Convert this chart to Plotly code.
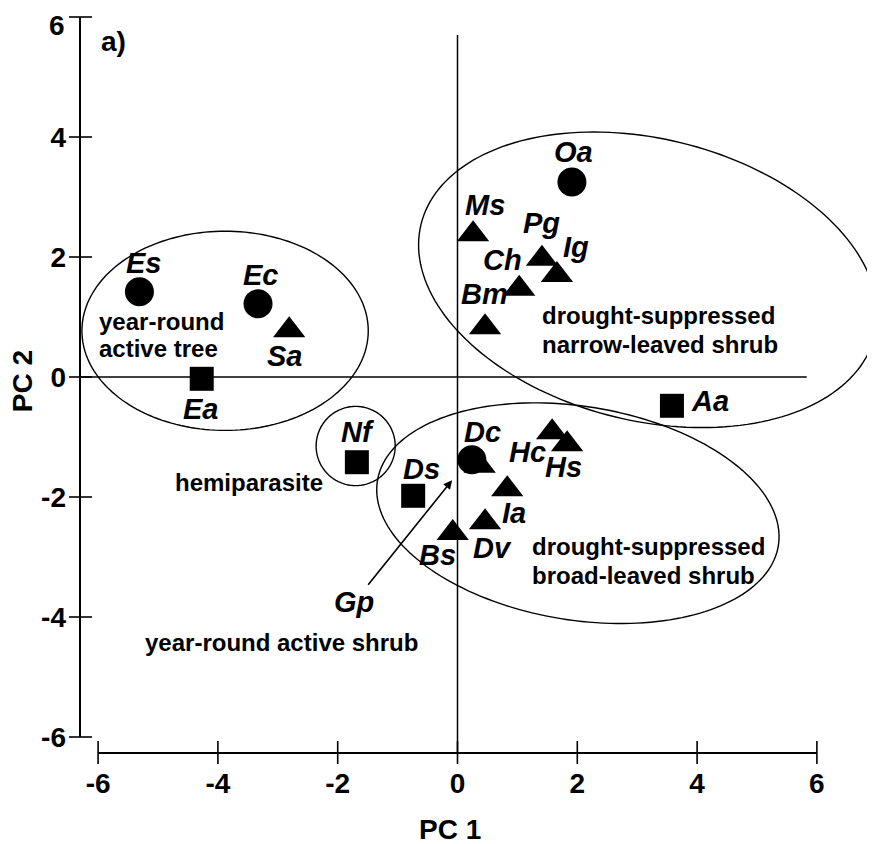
import numpy as np
import plotly.graph_objects as go

# ---------------- data ----------------
circle_species = ["Es", "Ec", "Oa", "Dc"]
circle_pc1 = [-5.31, -3.33, 1.91, 0.24]
circle_pc2 = [1.42, 1.22, 3.25, -1.38]

triangle_species = ["Sa", "Ms", "Pg", "Ig", "Ch", "Bm", "Hc", "Hs", "Ia", "Dv", "Bs", "Gp"]
triangle_pc1 = [-2.81, 0.26, 1.41, 1.66, 1.03, 0.46, 1.58, 1.83, 0.83, 0.46, -0.08, 0.37]
triangle_pc2 = [0.78, 2.38, 1.97, 1.70, 1.47, 0.83, -0.92, -1.12, -1.87, -2.42, -2.60, -1.48]

square_species = ["Ea", "Nf", "Aa", "Ds"]
square_pc1 = [-4.27, -1.68, 3.58, -0.74]
square_pc2 = [-0.03, -1.42, -0.48, -1.98]

tick_values = [-6, -4, -2, 0, 2, 4, 6]
tick_labels = ["-6", "-4", "-2", "0", "2", "4", "6"]

# functional groups (enclosing ellipses, in PC units)
group_cx = [-3.88, -1.70, 3.18, 2.01]
group_cy = [0.77, -1.15, 1.62, -2.27]
group_a = [2.39, 0.66, 3.90, 3.39]
group_b = [1.66, 0.66, 2.35, 1.78]
group_angle = [0.0, 0.0, -13.7, -9.2]

# ---------------- styling / layout ----------------
FONT = "Liberation Sans, Arial, sans-serif"
OFF = 8  # page body margin
W, H = 875 - OFF, 844 - OFF
PX_X = 59.9
PX_Y = 60.0
X0_PIX, Y0_PIX = 457.5 - OFF, 377.0 - OFF     # figure pixel of the origin
YAX_PIX = 80 - OFF                              # y axis line (figure px)
XAX_PIX = 753 - OFF                             # x axis line (figure px)
ML, MT = YAX_PIX - 2, 0
MB = H - (XAX_PIX + 2)
plot_w = W - ML
plot_h = H - MT - MB
x_range = [(ML - X0_PIX) / PX_X, (W - X0_PIX) / PX_X]
y_range = [-(MT + plot_h - Y0_PIX) / PX_Y, (Y0_PIX - MT) / PX_Y]

# label offsets in pixels (dx right, dy up) relative to each point
label_offsets = {
    "Es": (4, 29), "Ec": (2, 29), "Oa": (2, 30), "Dc": (11, 28),
    "Sa": (-5, -26), "Ms": (12, 29), "Pg": (0, 36), "Ig": (19, 28),
    "Ch": (-17, 29), "Bm": (-1, 33), "Hc": (-25, -20), "Hs": (-4, -23),
    "Ia": (7, -24), "Dv": (7, -26), "Bs": (-15, -22),
    "Ea": (-1, -30), "Nf": (1, 30), "Aa": (38, 5), "Ds": (8, 27),
}

fig = go.Figure()

# ellipses
for cx, cy, a, b, ang in zip(group_cx, group_cy, group_a, group_b, group_angle):
    t = np.linspace(0, 2 * np.pi, 181)
    th = np.deg2rad(ang)
    xs = cx + a * np.cos(t) * np.cos(th) - b * np.sin(t) * np.sin(th)
    ys = cy + a * np.cos(t) * np.sin(th) + b * np.sin(t) * np.cos(th)
    path = "M " + " L ".join(f"{x:.4f},{y:.4f}" for x, y in zip(xs, ys)) + " Z"
    fig.add_shape(type="path", path=path, xref="x", yref="y",
                  line=dict(color="black", width=1.4), layer="below")

# crosshair lines through origin
fig.add_shape(type="line", xref="x", yref="y", x0=0, x1=0, y0=5.7,
              y1=-(XAX_PIX - Y0_PIX) / PX_Y, line=dict(color="black", width=1.5), layer="below")
fig.add_shape(type="line", xref="x", yref="y", x0=(YAX_PIX - X0_PIX) / PX_X, x1=5.83,
              y0=0, y1=0, line=dict(color="black", width=1.5), layer="below")

# axis lines (offset style)
x_axis_paper_y = (MT + plot_h - XAX_PIX) / plot_h
y_axis_paper_x = (YAX_PIX - ML) / plot_w
fig.add_shape(type="line", xref="x", yref="paper", x0=tick_values[0], x1=tick_values[-1],
              y0=x_axis_paper_y, y1=x_axis_paper_y, line=dict(color="black", width=2))
fig.add_shape(type="line", xref="paper", yref="y", x0=y_axis_paper_x, x1=y_axis_paper_x,
              y0=tick_values[0], y1=tick_values[-1], line=dict(color="black", width=2))
for v in tick_values:
    fig.add_shape(type="line", xref="x", yref="paper", x0=v, x1=v,
                  ysizemode="pixel", yanchor=x_axis_paper_y, y0=-11, y1=12,
                  line=dict(color="black", width=1.6))
    fig.add_shape(type="line", xref="paper", yref="y", y0=v, y1=v,
                  xsizemode="pixel", xanchor=y_axis_paper_x, x0=-11, x1=12,
                  line=dict(color="black", width=1.6))

# markers
fig.add_trace(go.Scatter(x=triangle_pc1, y=triangle_pc2, mode="markers", text=triangle_species,
                         marker=dict(symbol="triangle-up", size=28, color="black", line=dict(width=0)),
                         showlegend=False, hoverinfo="text"))
fig.add_trace(go.Scatter(x=circle_pc1, y=circle_pc2, mode="markers", text=circle_species,
                         marker=dict(symbol="circle", size=29, color="black", line=dict(width=0)),
                         showlegend=False, hoverinfo="text"))
fig.add_trace(go.Scatter(x=square_pc1, y=square_pc2, mode="markers", text=square_species,
                         marker=dict(symbol="square", size=24, color="black", line=dict(width=0)),
                         showlegend=False, hoverinfo="text"))

sp_font = dict(family=FONT, size=29, color="black", weight="bold", style="italic")
all_species = circle_species + triangle_species + square_species
all_x = circle_pc1 + triangle_pc1 + square_pc1
all_y = circle_pc2 + triangle_pc2 + square_pc2
for name, x, y in zip(all_species, all_x, all_y):
    if name in label_offsets:
        dx, dy = label_offsets[name]
        fig.add_annotation(x=x, y=y, text=name, showarrow=False, xshift=dx, yshift=dy,
                           xanchor="center", yanchor="middle", font=sp_font)

# Gp arrow label
fig.add_annotation(x=-0.09, y=-1.72, text="Gp", showarrow=True, ax=-98, ay=122,
                   arrowhead=2, arrowsize=1.1, arrowwidth=1.6, arrowcolor="black",
                   standoff=0, font=sp_font)

# group labels
g_font = dict(family=FONT, size=24, color="black", weight="bold")
group_text_lines = [
    ("year-round", -6.02, 0.93, "left"), ("active tree", -6.02, 0.48, "left"),
    ("hemiparasite", -3.48, -1.75, "center"),
    ("drought-suppressed", 1.38, 1.02, "left"), ("narrow-leaved shrub", 1.38, 0.55, "left"),
    ("drought-suppressed", 1.21, -2.83, "left"), ("broad-leaved shrub", 1.21, -3.30, "left"),
    ("year-round active shrub", -2.93, -4.43, "center"),
]
for txt, x, y, anc in group_text_lines:
    fig.add_annotation(x=x, y=y, text=txt, showarrow=False, xanchor=anc, yanchor="middle",
                       font=g_font)

ax_font = dict(family=FONT, size=28, color="black", weight="bold")
fig.add_annotation(x=-5.75, y=5.6, text="a)", showarrow=False, xanchor="center",
                   yanchor="middle", font=ax_font)
fig.add_annotation(x=-0.125, xref="x", y=(MT + plot_h - (830 - OFF)) / plot_h,
                   yref="paper", text="PC 1", showarrow=False, xanchor="center",
                   yanchor="middle", font=ax_font)
fig.add_annotation(x=(22 - OFF - ML) / plot_w, xref="paper", y=-0.07, yref="y", text="PC 2",
                   showarrow=False, textangle=-90, xanchor="center", yanchor="middle",
                   font=ax_font)

tick_font = dict(family=FONT, size=28, color="black", weight="bold")
# the top y tick label sits at the very top edge; draw it just below the edge
y_ticktext = tick_labels[:-1] + [""]
fig.add_annotation(x=(67 - OFF - ML) / plot_w, xref="paper", y=1, yref="paper",
                   text=tick_labels[-1], showarrow=False, xanchor="right", yanchor="top",
                   font=tick_font)

fig.update_xaxes(range=x_range, tickvals=tick_values, ticktext=tick_labels, showgrid=False,
                 zeroline=False, showline=False, ticks="", tickfont=tick_font,
                 ticklabelstandoff=9, automargin=False, fixedrange=True)
fig.update_yaxes(range=y_range, tickvals=tick_values, ticktext=y_ticktext, showgrid=False,
                 zeroline=False, showline=False, ticks="", tickfont=tick_font,
                 ticklabelstandoff=11, automargin=False, fixedrange=True)
fig.update_layout(width=W, height=H, margin=dict(l=ML, r=0, t=MT, b=MB),
                  paper_bgcolor="white", plot_bgcolor="white", showlegend=False)

fig.write_html("out.html")
